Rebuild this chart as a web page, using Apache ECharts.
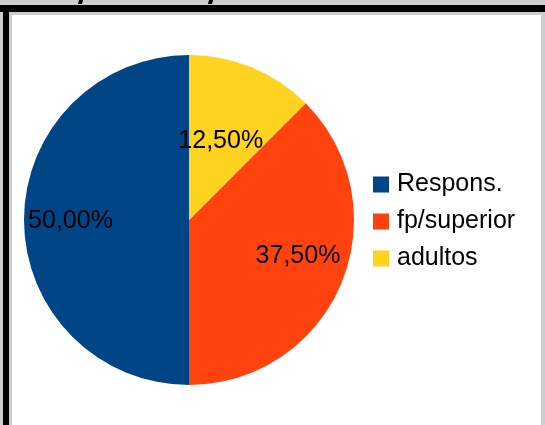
<!DOCTYPE html>
<html>
<head>
<meta charset="utf-8">
<script src="https://cdn.jsdelivr.net/npm/echarts@6/dist/echarts.min.js"></script>
<style>
html,body{margin:0;padding:0;background:#cccccc;}
#c{width:545px;height:425px;}
</style>
</head>
<body>
<div id="c"></div>
<script>
const categories = ['Respons.', 'fp/superior', 'adultos'];
const values = [50, 37.5, 12.5];
const colors = ['#004586', '#ff420e', '#ffd320'];
const labelShift = [[-33, 1], [30, 3], [-1, 0]];

const chart = echarts.init(document.getElementById('c'), null, {renderer: 'canvas'});
const fmt = v => v.toFixed(2).replace('.', ',') + '%';
chart.setOption({
  backgroundColor: '#cccccc',
  animation: false,
  graphic: [
    {type: 'rect', z: 0, shape: {x: 0, y: 5, width: 545, height: 7}, style: {fill: '#000'}},
    {type: 'rect', z: 0, shape: {x: 3, y: 5, width: 6, height: 420}, style: {fill: '#000'}},
    {type: 'rect', z: 0, shape: {x: 12, y: 15, width: 529, height: 410}, style: {fill: '#ffffff'}},
    {type: 'polygon', z: 0, shape: {points: [[79, 0], [83, 0], [82, 4], [78, 4]]}, style: {fill: '#000'}},
    {type: 'polygon', z: 0, shape: {points: [[209, 0], [213, 0], [212, 4], [208, 4]]}, style: {fill: '#000'}}
  ],
  legend: {
    orient: 'vertical',
    left: 373,
    top: 172,
    padding: 0,
    itemWidth: 16,
    itemHeight: 16,
    itemGap: 12,
    icon: 'rect',
    data: categories,
    textStyle: {fontFamily: 'Liberation Sans', fontSize: 25, color: '#000', lineHeight: 25, padding: [0, 0, 0, 3]}
  },
  series: [{
    type: 'pie',
    center: [189, 220],
    radius: [0, 165],
    startAngle: 90,
    clockwise: false,
    avoidLabelOverlap: false,
    silent: true,
    label: {
      show: true,
      position: 'inside',
      color: '#000',
      fontFamily: 'Liberation Sans',
      fontSize: 25,
      formatter: p => fmt(p.value)
    },
    labelLine: {show: false},
    labelLayout: p => ({dx: labelShift[p.dataIndex][0], dy: labelShift[p.dataIndex][1]}),
    itemStyle: {borderWidth: 0},
    data: categories.map((c, i) => ({name: c, value: values[i], itemStyle: {color: colors[i]}}))
  }]
});
</script>
</body>
</html>
